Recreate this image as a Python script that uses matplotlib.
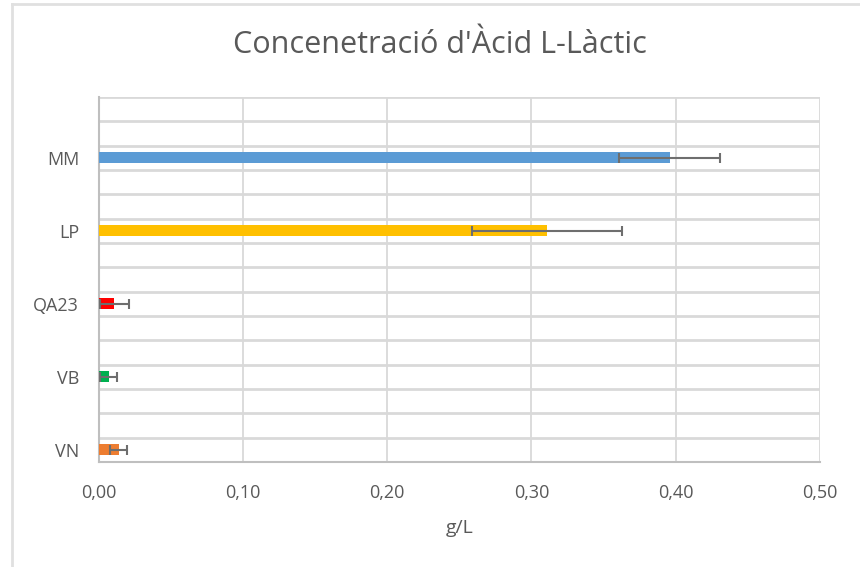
import matplotlib
matplotlib.use('Agg')
import matplotlib.pyplot as plt
from matplotlib.lines import Line2D

categories = ['VN', 'VB', 'QA23', 'LP', 'MM']
values = [0.014, 0.007, 0.011, 0.311, 0.396]
errors = [0.006, 0.006, 0.010, 0.052, 0.035]
colors = ['#ED7D31', '#00B050', '#FF0000', '#FFC000', '#5B9BD5']
xticks = [0.0, 0.1, 0.2, 0.3, 0.4, 0.5]

txt = '#595959'
grid = '#D9D9D9'

plt.rcParams['font.family'] = ['Open Sans', 'DejaVu Sans']

fig = plt.figure(figsize=(8.6, 5.67), dpi=100)
ax = fig.add_axes([98.5/860, 1-462/567, (820-98.5)/860, (462-97)/567])

# each category takes 3 grid rows, bar sits in the lowest one
ypos = [0.5 + 3*i for i in range(len(categories))]
ax.barh(ypos, values, height=0.46, color=colors, zorder=3)
ax.errorbar(values, ypos, xerr=errors, fmt='none', ecolor='#6E6E6E',
            elinewidth=1.5, capsize=3.5, capthick=1.5, zorder=4)

ax.set_xlim(0, 0.5)
ax.set_ylim(0, 15)
ax.set_xticks(xticks)
ax.set_xticklabels([('%.2f' % t).replace('.', ',') for t in xticks])
ax.set_yticks(ypos)
ax.set_yticklabels(categories)
ax.set_yticks(range(16), minor=True)

ax.grid(True, axis='x', color=grid, linewidth=1.3, zorder=0)
ax.grid(True, axis='y', which='minor', color=grid, linewidth=2.0, zorder=0)
ax.grid(False, axis='y', which='major')
ax.tick_params(axis='both', which='both', length=0, colors=txt, labelsize=13)
ax.tick_params(axis='x', pad=16)
ax.tick_params(axis='y', pad=14)
for s in ['top', 'right']:
    ax.spines[s].set_visible(False)
ax.spines['left'].set_color('#BFBFBF')
ax.spines['bottom'].set_color('#BFBFBF')
ax.spines['left'].set_linewidth(1.5)
ax.spines['bottom'].set_linewidth(1.5)
ax.set_ylim(0, 15)

ax.set_xlabel('g/L', color=txt, fontsize=14, labelpad=12)
fig.text(440/860, 1-45/567, "Concenetració d'Àcid L-Làctic", ha='center', va='center',
         color=txt, fontsize=22)

# outer chart border
fig.add_artist(Line2D([12/860, 12/860], [0, 1-4/567], color='#E0E0E0', linewidth=2,
                      transform=fig.transFigure))
fig.add_artist(Line2D([12/860, 1], [1-4/567, 1-4/567], color='#E0E0E0', linewidth=2,
                      transform=fig.transFigure))

fig.savefig('out.png', dpi=100)
